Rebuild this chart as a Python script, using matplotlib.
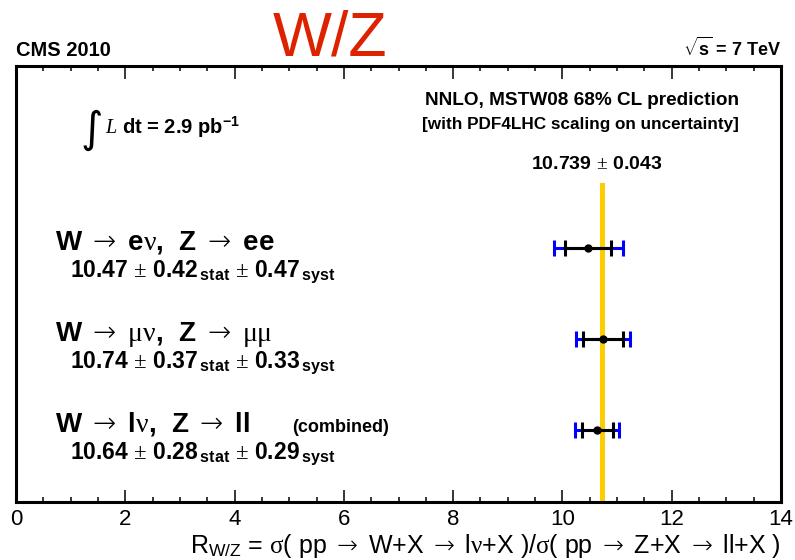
import matplotlib
matplotlib.use("Agg")
import matplotlib.pyplot as plt
import numpy as np
from matplotlib import font_manager

names = {f.name for f in font_manager.fontManager.ttflist}
has_light = any(f.name == 'DejaVu Sans' and (f.weight in (200, 'extra-light', 'light', 300)) for f in font_manager.fontManager.ttflist)

plt.rcParams['mathtext.fontset'] = 'custom'
plt.rcParams['mathtext.bf'] = 'Liberation Sans:bold'
plt.rcParams['mathtext.rm'] = 'DejaVu Sans:light' if has_light else 'DejaVu Sans'
plt.rcParams['mathtext.sf'] = 'Liberation Serif'
plt.rcParams['mathtext.it'] = 'Liberation Serif:italic'
plt.rcParams['font.family'] = ['Liberation Sans', 'DejaVu Sans']

narrow_ok = 'Liberation Sans Narrow' in names
narrow = ['Liberation Sans Narrow', 'Liberation Sans'] if narrow_ok else ['Liberation Sans']

# ---- data ----
channels = [r"W $\mathrm{\rightarrow}$ e$\mathsf{\nu}$,  Z $\mathrm{\rightarrow}$ ee",
            r"W $\mathrm{\rightarrow}$ $\mathsf{\mu\nu}$,  Z $\mathrm{\rightarrow}$ $\mathsf{\mu\mu}$",
            r"W $\mathrm{\rightarrow}$ l$\mathsf{\nu}$,  Z $\mathrm{\rightarrow}$ ll"]
values = np.array([10.47, 10.74, 10.64])
stat = np.array([0.42, 0.37, 0.28])
syst = np.array([0.47, 0.33, 0.29])
theory = 10.739
theory_err = 0.043
xticks = [0, 2, 4, 6, 8, 10, 12, 14]

total = np.sqrt(stat**2 + syst**2)
ypos = [0.583, 0.374, 0.165]

fig = plt.figure(figsize=(7.95, 5.6), dpi=100)
ax = fig.add_axes([16/795, (560-502)/560, (781-16)/795, (502-66)/560])
ax.set_xlim(0, 14)
ax.set_ylim(0, 1)

# theory band
ax.fill_betweenx([0, 0.732], theory - theory_err, theory + theory_err,
                 color='#FFCC00', lw=0, zorder=1)

# error bars
ax.errorbar(values, ypos, xerr=total, fmt='none', ecolor='blue',
            elinewidth=2.2, capsize=6, capthick=2.2, zorder=2)
ax.errorbar(values, ypos, xerr=stat, fmt='o', color='black', ms=5,
            elinewidth=2.2, capsize=6, capthick=2.2, zorder=3)

# axes style
for s in ax.spines.values():
    s.set_linewidth(2.2)
ax.set_yticks([])
ax.set_xticks(xticks)
ax.set_xticklabels([str(t) for t in xticks], family=narrow)
ax.set_xticks(np.arange(0, 14.01, 0.5), minor=True)
ax.tick_params(axis='x', which='both', direction='in', top=True, bottom=True)
ax.tick_params(axis='x', which='major', length=9, width=1.1,
               labelsize=17.5 if narrow_ok else 16, pad=5)
ax.tick_params(axis='x', which='minor', length=3.5, width=1.1)

# texts
fig.text(16/795, 1 - 56/560, "CMS 2010", fontsize=14.5, fontweight='bold', ha='left', va='baseline')
fig.text(781/795, 1 - 56/560, r"$\sqrt{\mathbf{s}}$ = 7 TeV", fontsize=13, fontweight='bold', ha='right', va='baseline')
fig.text(330/795, 1 - 55/560, "W/Z", fontsize=45, color='#DD2200', ha='center', va='baseline')

fig.text(582/795, 1 - 105/560, "NNLO, MSTW08 68% CL prediction", fontsize=13.7, fontweight='bold', ha='center', va='baseline')
fig.text(580/795, 1 - 129/560, "[with PDF4LHC scaling on uncertainty]", fontsize=12.3, fontweight='bold', ha='center', va='baseline')
fig.text(597/795, 1 - 169/560, r"10.739 $\mathsf{\pm}$ 0.043", fontsize=14, fontweight='bold', ha='center', va='baseline')

fig.text(80/795, 1 - 142/560, "\u222B", fontsize=31, family='DejaVu Sans', ha='left', va='baseline')
fig.text(105/795, 1 - 134/560, r"$L$ dt = 2.9 pb$^{\mathbf{-1}}$", fontsize=14.5, fontweight='bold', ha='left', va='baseline')

label_base = [250, 341, 432]
for i in range(3):
    yb = label_base[i]
    fig.text(55/795, 1 - yb/560, channels[i], fontsize=20, fontweight='bold', ha='left', va='baseline')
    fig.text(70/795, 1 - (yb + 27)/560,
             r"%.2f $\mathsf{\pm}$ %.2f$\,_{\mathbf{stat}}$ $\mathsf{\pm}$ %.2f$\,_{\mathbf{syst}}$" % (values[i], stat[i], syst[i]),
             fontsize=16.5, fontweight='bold', ha='left', va='baseline')
fig.text(292/795, 1 - 432/560, "(combined)", fontsize=13, fontweight='bold', ha='left', va='baseline')

fig.text(781/795, 1 - 553/560,
         r"R$_{\mathregular{W/Z}}$ = $\mathsf{\sigma}$( pp $\mathrm{\rightarrow}$ W+X $\mathrm{\rightarrow}$ l$\mathsf{\nu}$+X )/$\mathsf{\sigma}$( pp $\mathrm{\rightarrow}$ Z+X $\mathrm{\rightarrow}$ ll+X )",
         fontsize=20.5 if narrow_ok else 18, family=narrow, ha='right', va='baseline')

fig.savefig("out.png", dpi=100)
